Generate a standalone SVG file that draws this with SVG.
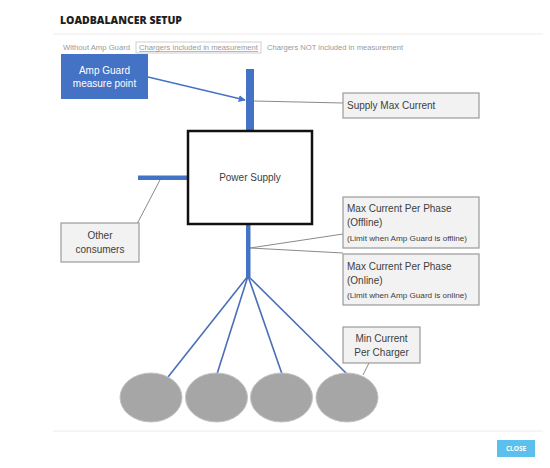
<svg xmlns="http://www.w3.org/2000/svg" width="550" height="468" viewBox="0 0 550 468">
<style>
.t{font-family:"Liberation Sans",Arial,sans-serif;fill:#404040}
.lbl{fill:#f2f2f2;stroke:#9a9a9a;stroke-width:1.2}
.tab{font-family:"Liberation Sans",Arial,sans-serif;font-size:7px;fill:#9a9a9a}
.gl{stroke:#8a8a8a;stroke-width:1;fill:none}
.fan{stroke:#4a6fb8;stroke-width:1.6;fill:none}
.bar{fill:#4472c4}
.chg{fill:#a6a6a6;stroke:#c4c4c4;stroke-width:1}
</style>
<defs>
<marker id="ah" viewBox="0 0 10 10" refX="9" refY="5" markerWidth="7" markerHeight="7" orient="auto" markerUnits="userSpaceOnUse">
<path d="M0,0 L10,5 L0,10 z" fill="#4472c4"/>
</marker>
</defs>
<rect width="550" height="468" fill="#ffffff"/>
<g id="header">
<text x="60" y="24" font-family="'Open Sans','Liberation Sans',sans-serif" font-weight="800" font-size="10.5" fill="#1e1e1e" textLength="122" lengthAdjust="spacingAndGlyphs">LOADBALANCER SETUP</text>
<line x1="53" y1="34" x2="543" y2="34" stroke="#ececec" stroke-width="1"/>
<text class="tab" x="63" y="50" textLength="67" lengthAdjust="spacingAndGlyphs">Without Amp Guard</text>
<rect x="136" y="42" width="125" height="11" fill="#ffffff" stroke="#cfcfcf" stroke-width="1"/>
<text class="tab" x="139" y="50" text-decoration="underline" textLength="119" lengthAdjust="spacingAndGlyphs">Chargers included in measurement</text>
<text class="tab" x="267" y="50" textLength="136" lengthAdjust="spacingAndGlyphs">Chargers NOT included in measurement</text>
</g>
<g id="connectors">
<line x1="148" y1="77" x2="245" y2="100" stroke="#4472c4" stroke-width="1.3" marker-end="url(#ah)"/>
<polyline class="gl" points="254,101 343,103"/>
<line class="gl" x1="161" y1="178" x2="137" y2="224"/>
<line class="gl" x1="250" y1="248" x2="343" y2="234"/>
<line class="gl" x1="250" y1="248" x2="343" y2="253"/>
<line class="fan" x1="248" y1="276" x2="168" y2="377"/>
<line class="fan" x1="248" y1="276" x2="217" y2="374"/>
<line class="fan" x1="248" y1="276" x2="282" y2="374"/>
<line class="fan" x1="248" y1="276" x2="347" y2="374"/>
<line class="gl" x1="369" y1="363" x2="363" y2="375"/>
</g>
<g id="amp-guard">
<rect x="61" y="54" width="87" height="45" fill="#4472c4"/>
<text class="t" x="104.5" y="74" font-size="10" style="fill:#ffffff" text-anchor="middle">Amp Guard</text>
<text class="t" x="104.5" y="87" font-size="10" style="fill:#ffffff" text-anchor="middle">measure point</text>
</g>
<g id="supply-bar"><rect class="bar" x="246" y="69" width="8" height="62"/></g>
<g id="consumer-bar"><rect class="bar" x="138" y="175.5" width="50" height="4.5"/></g>
<g id="charger-bar"><rect class="bar" x="246" y="224" width="4.5" height="53"/></g>
<g id="power-supply">
<rect x="188" y="131" width="124" height="93" fill="#ffffff" stroke="#111111" stroke-width="2.5"/>
<text class="t" x="250" y="181" font-size="10" text-anchor="middle">Power Supply</text>
</g>
<g id="supply-max-current">
<rect class="lbl" x="343" y="93" width="136" height="25"/>
<text class="t" x="347" y="109" font-size="10">Supply Max Current</text>
</g>
<g id="other-consumers">
<rect class="lbl" x="61" y="223" width="78" height="39"/>
<text class="t" x="100" y="239" font-size="10" text-anchor="middle">Other</text>
<text class="t" x="100" y="253" font-size="10" text-anchor="middle">consumers</text>
</g>
<g id="max-offline">
<rect class="lbl" x="343" y="197" width="136" height="51"/>
<text class="t" x="347" y="212" font-size="10">Max Current Per Phase</text>
<text class="t" x="347" y="226" font-size="10">(Offline)</text>
<text class="t" x="347" y="241" font-size="7" textLength="120" lengthAdjust="spacingAndGlyphs">(Limit when Amp Guard is offline)</text>
</g>
<g id="max-online">
<rect class="lbl" x="343" y="254" width="136" height="51"/>
<text class="t" x="347" y="270" font-size="10">Max Current Per Phase</text>
<text class="t" x="347" y="284" font-size="10">(Online)</text>
<text class="t" x="347" y="298" font-size="7" textLength="120" lengthAdjust="spacingAndGlyphs">(Limit when Amp Guard is online)</text>
</g>
<g id="min-current">
<rect class="lbl" x="343" y="327" width="77" height="36"/>
<text class="t" x="381.5" y="342" font-size="10" text-anchor="middle">Min Current</text>
<text class="t" x="381.5" y="356" font-size="10" text-anchor="middle">Per Charger</text>
</g>
<g id="charger-1"><ellipse class="chg" cx="151" cy="397.5" rx="31" ry="24.5"/></g>
<g id="charger-2"><ellipse class="chg" cx="216.5" cy="397.5" rx="31" ry="24.5"/></g>
<g id="charger-3"><ellipse class="chg" cx="281.5" cy="397.5" rx="31" ry="24.5"/></g>
<g id="charger-4"><ellipse class="chg" cx="347" cy="397.5" rx="31" ry="24.5"/></g>
<g id="footer">
<line x1="53" y1="431" x2="543" y2="431" stroke="#ececec" stroke-width="1"/>
<rect x="497" y="440" width="38" height="17" fill="#5bc0eb"/>
<text x="516" y="451" font-family="'Open Sans','Liberation Sans',sans-serif" font-weight="700" font-size="6.5" fill="#ffffff" text-anchor="middle">CLOSE</text>
</g>
</svg>
